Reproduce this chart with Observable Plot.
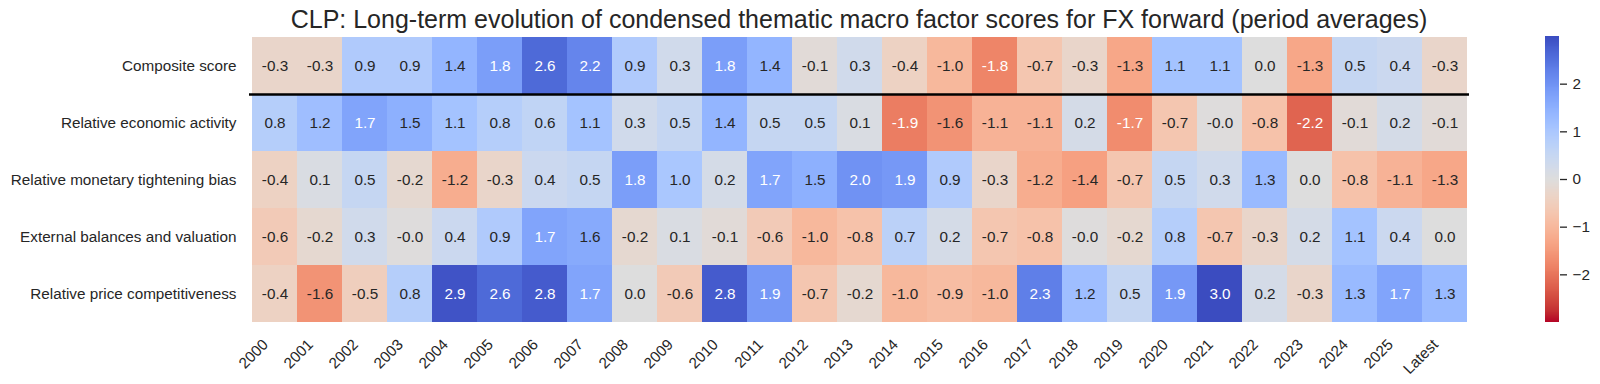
<!DOCTYPE html>
<html>
<head>
<meta charset="utf-8">
<script src="https://cdn.jsdelivr.net/npm/d3@7"></script>
<script src="https://cdn.jsdelivr.net/npm/@observablehq/plot@0.6"></script>
<style>
  body { margin: 0; background: #ffffff; }
  #wrap { position: relative; width: 1600px; height: 384px; overflow: hidden;
          font-family: "Liberation Sans", Arial, sans-serif; }
  #title { position: absolute; left: 249px; width: 1220px; top: 6.5px; text-align: center;
           font-size: 25px; line-height: 25px; color: #262626; white-space: nowrap; }
  #main { position: absolute; left: 0; top: 0; }
  #cbar { position: absolute; left: 1545px; top: 0; }
</style>
</head>
<body>
<div id="wrap">
  <div id="main"></div>
  <div id="cbar"></div>
  <div id="title">CLP: Long-term evolution of condensed thematic macro factor scores for FX forward (period averages)</div>
</div>
<script>
// ---------- data ----------
const years = ["2000","2001","2002","2003","2004","2005","2006","2007","2008","2009",
  "2010","2011","2012","2013","2014","2015","2016","2017","2018","2019",
  "2020","2021","2022","2023","2024","2025","Latest"];

const factors = ["Composite score", "Relative economic activity",
  "Relative monetary tightening bias", "External balances and valuation",
  "Relative price competitiveness"];

const compositeScore = [-0.3, -0.3, 0.9, 0.9, 1.4, 1.8, 2.6, 2.2, 0.9, 0.3, 1.8, 1.4, -0.1, 0.3,
  -0.4, -1.0, -1.8, -0.7, -0.3, -1.3, 1.1, 1.1, 0.0, -1.3, 0.5, 0.4, -0.3];
const economicActivity = [0.8, 1.2, 1.7, 1.5, 1.1, 0.8, 0.6, 1.1, 0.3, 0.5, 1.4, 0.5, 0.5, 0.1,
  -1.9, -1.6, -1.1, -1.1, 0.2, -1.7, -0.7, -0.02, -0.8, -2.2, -0.1, 0.2, -0.1];
const monetaryTightening = [-0.4, 0.1, 0.5, -0.2, -1.2, -0.3, 0.4, 0.5, 1.8, 1.0, 0.2, 1.7, 1.5, 2.0,
  1.9, 0.9, -0.3, -1.2, -1.4, -0.7, 0.5, 0.3, 1.3, 0.0, -0.8, -1.1, -1.3];
const externalBalances = [-0.6, -0.2, 0.3, -0.02, 0.4, 0.9, 1.7, 1.6, -0.2, 0.1, -0.1, -0.6, -1.0, -0.8,
  0.7, 0.2, -0.7, -0.8, -0.02, -0.2, 0.8, -0.7, -0.3, 0.2, 1.1, 0.4, 0.0];
const priceCompetitiveness = [-0.4, -1.6, -0.5, 0.8, 2.9, 2.6, 2.8, 1.7, 0.0, -0.6, 2.8, 1.9, -0.7, -0.2,
  -1.0, -0.9, -1.0, 2.3, 1.2, 0.5, 1.9, 3.0, 0.2, -0.3, 1.3, 1.7, 1.3];

const colorTicks = [-2, -1, 0, 1, 2];
const colorDomain = [-3, 3];

// ---------- build table ----------
const series = [compositeScore, economicActivity, monetaryTightening, externalBalances, priceCompetitiveness];
const table = [];
factors.forEach((f, i) => years.forEach((y, j) => table.push({factor: f, year: y, value: series[i][j]})));

// ---------- coolwarm colormap (reversed) ----------
const coolwarmStops = ["#3b4cc0","#445acc","#4d68d7","#5775e1","#6282ea","#6c8ef1","#779af7","#82a5fb",
  "#8db0fe","#98b9ff","#a3c2ff","#aec9fd","#b8d0f9","#c2d5f4","#ccd9ee","#d5dbe6","#dddddd",
  "#e5d8d1","#ecd3c5","#f1ccb9","#f5c4ad","#f7bba0","#f7b194","#f7a687","#f49a7b","#f18d6f",
  "#ec7f63","#e57058","#de604d","#d55042","#cb3e38","#c0282f","#b40426"];
const coolwarm = d3.piecewise(d3.interpolateRgb, coolwarmStops);
const cmap = t => coolwarm(1 - Math.max(0, Math.min(1, t)));
const colorOf = v => cmap((v - colorDomain[0]) / (colorDomain[1] - colorDomain[0]));
function luminance(c) {
  const {r, g, b} = d3.rgb(c);
  const f = x => { x /= 255; return x <= 0.03928 ? x / 12.92 : Math.pow((x + 0.055) / 1.055, 2.4); };
  return 0.2126 * f(r) + 0.7152 * f(g) + 0.0722 * f(b);
}
const isDarkText = d => luminance(colorOf(d.value)) > 0.408;

const FONT = '"Liberation Sans", Arial, sans-serif';
const FS = 15.28;
const W = 1600, H = 384, ML = 249, MR = 131, MT = 36, MB = 62;
const rowH = (H - MT - MB) / factors.length;

const colorScale = {type: "linear", domain: colorDomain, interpolate: cmap};

const main = Plot.plot({
  width: W, height: H,
  marginLeft: ML, marginRight: MR, marginTop: MT, marginBottom: MB,
  style: {fontFamily: FONT, fontSize: FS + "px", color: "#262626", background: "transparent"},
  x: {domain: years, padding: 0, axis: null},
  y: {domain: factors, padding: 0, axis: null},
  color: colorScale,
  marks: [
    Plot.cell(table, {x: "year", y: "factor", fill: "value", inset: 0, shapeRendering: "crispEdges"}),
    Plot.text(table, {x: "year", y: "factor", text: d => d.value.toFixed(1), filter: isDarkText,
      fill: "#262626", fontSize: FS}),
    Plot.text(table, {x: "year", y: "factor", text: d => d.value.toFixed(1), filter: d => !isDarkText(d),
      fill: "#ffffff", fontSize: FS}),
    Plot.ruleY([factors[0]], {dy: rowH / 2, stroke: "#000000", strokeWidth: 2.5}),
    Plot.text(factors, {y: d => d, frameAnchor: "left", textAnchor: "end", dx: -13,
      fill: "#262626", fontSize: FS}),
    Plot.text(years, {x: d => d, frameAnchor: "bottom", rotate: -45, textAnchor: "end",
      dx: -6, dy: 23, fill: "#262626", fontSize: FS})
  ]
});
document.getElementById("main").appendChild(main);

// ---------- colorbar ----------
const nSteps = 300;
const step = (colorDomain[1] - colorDomain[0]) / nSteps;
const cbSteps = d3.range(nSteps).map(i => colorDomain[0] + i * step);
const cb = Plot.plot({
  width: 55, height: H,
  marginLeft: 0, marginRight: 41, marginTop: MT, marginBottom: MB,
  style: {fontFamily: FONT, fontSize: FS + "px", color: "#262626", background: "transparent"},
  x: {domain: [0, 1], axis: null},
  y: {domain: colorDomain, axis: null},
  color: colorScale,
  marks: [
    Plot.rect(cbSteps, {x1: 0, x2: 1, y1: d => d, y2: d => d + step * 1.05, fill: d => d + step / 2,
      shapeRendering: "crispEdges"}),
    Plot.axisY({anchor: "right", ticks: colorTicks, tickSize: 7, tickPadding: 6, strokeWidth: 1.3,
      tickFormat: d => d < 0 ? "\u2212" + Math.abs(d) : String(d), label: null, fontSize: FS})
  ]
});
document.getElementById("cbar").appendChild(cb);
</script>
</body>
</html>
